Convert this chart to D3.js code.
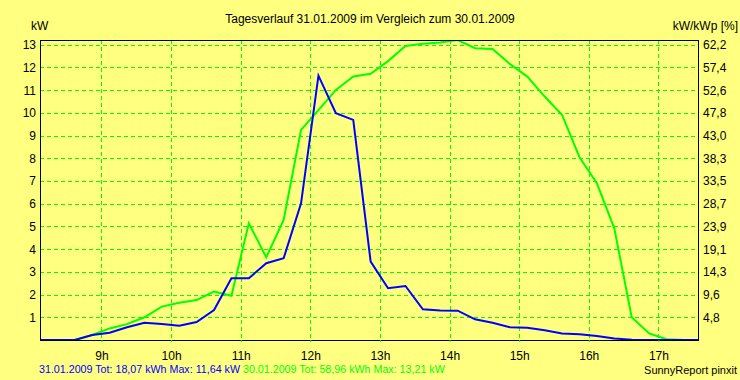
<!DOCTYPE html>
<html><head><meta charset="utf-8">
<script src="https://cdn.jsdelivr.net/npm/d3@7"></script>
<style>
html,body{margin:0;padding:0;background:#FFFF80;}
svg{display:block;font-family:"Liberation Sans",Arial,sans-serif;}
</style></head>
<body>
<svg id="c" width="740" height="380"></svg>
<script>
const times = ["08:07","08:22","08:37","08:52","09:07","09:22","09:37","09:52","10:07","10:22",
  "10:37","10:52","11:07","11:22","11:37","11:52","12:07","12:22","12:37","12:52",
  "13:07","13:22","13:37","13:52","14:07","14:22","14:37","14:52","15:07","15:22",
  "15:37","15:52","16:07","16:22","16:37","16:52","17:07","17:22","17:37"];
const day31 = [0,0,0,0.22,0.32,0.56,0.76,0.70,0.63,0.79,
  1.32,2.72,2.72,3.38,3.60,6.02,11.64,9.99,9.69,3.45,
  2.28,2.38,1.35,1.30,1.29,0.91,0.76,0.56,0.54,0.43,
  0.29,0.25,0.18,0.07,0.01,0,0,0,0];
const day30 = [0,0,0,0.22,0.51,0.70,1.00,1.47,1.64,1.76,
  2.13,1.95,5.14,3.64,5.29,9.25,10.12,11.01,11.60,11.72,
  12.28,12.95,13.04,13.10,13.21,12.85,12.81,12.15,11.60,10.72,
  9.91,8.05,6.90,4.92,1.00,0.29,0.03,0,0];
const hourTicks = [9,10,11,12,13,14,15,16,17];
const hourLabels = ["9h","10h","11h","12h","13h","14h","15h","16h","17h"];
const kwTicks = [1,2,3,4,5,6,7,8,9,10,11,12,13];
const pctLabels = ["4,8","9,6","14,3","19,1","23,9","28,7","33,5","38,3","43,0","47,8","52,6","57,4","62,2"];
const title = "Tagesverlauf 31.01.2009 im Vergleich zum 30.01.2009";
const legend31 = "31.01.2009 Tot: 18,07 kWh Max: 11,64 kW";
const legend30 = "30.01.2009 Tot: 58,96 kWh Max: 13,21 kW";

const toH = s => { const [h,m] = s.split(":").map(Number); return h + m/60; };
const svg = d3.select("#c");
const L = 40, R = 699, T = 40, B = 340;
const x = d3.scaleLinear().domain([8 + 7/60, 17 + 35/60]).range([L, R]);
const y = d3.scaleLinear().domain([0, 13.21]).range([B, T]);

svg.append("rect").attr("width",740).attr("height",380).attr("fill","#FFFF80");

// grid
const g = svg.append("g");
g.selectAll("line.h").data(kwTicks).join("line")
  .attr("x1",L).attr("x2",R).attr("y1",d=>Math.round(y(d))+0.5).attr("y2",d=>Math.round(y(d))+0.5)
  .attr("stroke","#00FF00").attr("stroke-dasharray","4,3");
g.selectAll("line.v").data(hourTicks).join("line")
  .attr("y1",T).attr("y2",B).attr("x1",d=>Math.round(x(d))+0.5).attr("x2",d=>Math.round(x(d))+0.5)
  .attr("stroke","#00FF00").attr("stroke-dasharray","4,3");

// clip
svg.append("clipPath").attr("id","pc").append("rect").attr("x",L).attr("y",T).attr("width",R-L).attr("height",B-T);

const line = d3.line().x((d,i)=>x(toH(times[i]))).y(d=>y(d));
svg.append("path").attr("d",line(day30)).attr("fill","none").attr("stroke","#00FF00")
  .attr("stroke-width",2).attr("clip-path","url(#pc)");
svg.append("path").attr("d",line(day31)).attr("fill","none").attr("stroke","#0000FF")
  .attr("stroke-width",2).attr("clip-path","url(#pc)");

// frame
svg.append("rect").attr("x",L+0.5).attr("y",T+0.5).attr("width",R-L-1).attr("height",B-T)
  .attr("fill","none").attr("stroke","#000");

// axes
const ax = svg.append("g").attr("transform",`translate(0,${B})`)
  .call(d3.axisBottom(x).tickValues(hourTicks).tickSize(2).tickFormat((d,i)=>hourLabels[i]));
ax.select(".domain").remove();
ax.selectAll("line").attr("stroke","#00FF00");
ax.selectAll("text").attr("font-size",12).attr("fill","#000").attr("dy","1.25em").attr("font-family","Liberation Sans, Arial, sans-serif");

const ay = svg.append("g").attr("transform",`translate(${L},0)`)
  .call(d3.axisLeft(y).tickValues(kwTicks).tickSize(0).tickPadding(4).tickFormat(d3.format("d")));
ay.select(".domain").remove();
ay.selectAll("text").attr("font-size",12).attr("fill","#000").attr("font-family","Liberation Sans, Arial, sans-serif");

const ar = svg.append("g").attr("transform",`translate(${R},0)`)
  .call(d3.axisRight(y).tickValues(kwTicks).tickSize(0).tickPadding(4).tickFormat((d,i)=>pctLabels[i]));
ar.select(".domain").remove();
ar.selectAll("text").attr("font-size",12).attr("fill","#000").attr("font-family","Liberation Sans, Arial, sans-serif");

// texts
svg.append("text").attr("x",370).attr("y",23).attr("text-anchor","middle").attr("font-size",12).text(title);
svg.append("text").attr("x",31).attr("y",30).attr("font-size",12).text("kW");
svg.append("text").attr("x",738).attr("y",30).attr("text-anchor","end").attr("font-size",12).text("kW/kWp [%]");
const lg = svg.append("text").attr("x",39).attr("y",373).attr("font-size",10.7);
lg.append("tspan").attr("fill","#0000FF").text(legend31 + " ");
lg.append("tspan").attr("fill","#00FF00").text(legend30);
svg.append("text").attr("x",737).attr("y",374).attr("text-anchor","end").attr("font-size",11).text("SunnyReport pinxit");
</script>
</body></html>
